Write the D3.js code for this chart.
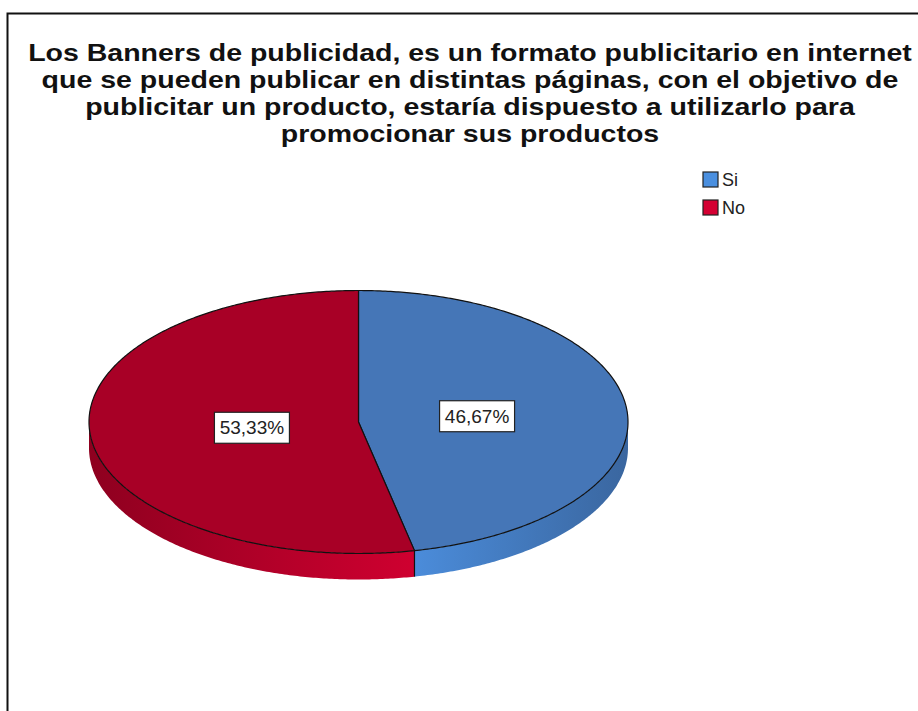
<!DOCTYPE html>
<html lang="es">
<head>
<meta charset="UTF-8"/>
<title>Banners de publicidad</title>
<script src="https://cdn.jsdelivr.net/npm/d3@7"></script>
<style>
    body { margin: 0; background: #fff; }
    text { font-family: "Liberation Sans", Arial, sans-serif; }
</style>
</head>
<body>
<svg width="918" height="711"></svg>
<script>
    // data
    const categories = ["Si", "No"];
    const percents = [46.67, 53.33];
    const labels = ["46,67%", "53,33%"];
    const titleLines = [
        "Los Banners de publicidad, es un formato publicitario en internet",
        "que se pueden publicar en distintas páginas, con el objetivo de",
        "publicitar un producto, estaría dispuesto a utilizarlo para",
        "promocionar sus productos"
    ];

    const topColor = d3.scaleOrdinal(categories, ["#4576b7", "#a80026"]);
    const sideLight = d3.scaleOrdinal(categories, ["#4b8cda", "#cf0030"]);
    const sideDark = d3.scaleOrdinal(categories, ["#3a669f", "#8e001f"]);
    const legendColor = d3.scaleOrdinal(categories, ["#4a8fdf", "#d40032"]);

    const svg = d3.select("svg");

    // frame (runs past the right and bottom edge like the source image)
    svg.append("rect")
        .attr("x", 7.5).attr("y", 13.5)
        .attr("width", 930).attr("height", 730)
        .attr("fill", "none").attr("stroke", "#111").attr("stroke-width", 2);

    // title: slightly smaller font, stretched to the width of the original lines
    const title = svg.append("g").selectAll("text")
        .data(titleLines)
        .enter().append("text")
        .attr("x", 470)
        .attr("y", (d, i) => 61 + i * 27)
        .attr("text-anchor", "middle")
        .attr("font-size", "24px")
        .attr("font-weight", "bold")
        .attr("fill", "#111")
        .text(d => d);
    title.each(function() {
        const w = this.getComputedTextLength();
        d3.select(this)
            .attr("textLength", w * 28.5 / 24)
            .attr("lengthAdjust", "spacingAndGlyphs");
    });

    // pie geometry
    const cx = 358.5, cy = 422, rx = 269.5, ry = 131.5, depth = 26;
    const px = (a, k = 1) => cx + rx * k * Math.sin(a);
    const py = (a, k = 1) => cy - ry * k * Math.cos(a);

    const pie = d3.pie().sort(null).value(d => d.value);
    const arcs = pie(categories.map((c, i) => ({ cat: c, value: percents[i], label: labels[i] })));

    const line = d3.line();
    function arcPoints(a0, a1, dy) {
        const n = Math.max(2, Math.ceil((a1 - a0) / 0.01));
        return d3.range(n + 1).map(i => {
            const a = a0 + (a1 - a0) * i / n;
            return [px(a), py(a) + dy];
        });
    }

    const defs = svg.append("defs");
    arcs.forEach((d, i) => {
        const gr = defs.append("linearGradient")
            .attr("id", "side" + i)
            .attr("gradientUnits", "userSpaceOnUse")
            .attr("x1", cx - rx).attr("x2", cx + rx).attr("y1", 0).attr("y2", 0);
        const mid = (px(arcs[0].endAngle) - (cx - rx)) / (2 * rx);
        gr.append("stop").attr("offset", 0).attr("stop-color", sideDark(d.data.cat));
        gr.append("stop").attr("offset", mid).attr("stop-color", sideLight(d.data.cat));
        gr.append("stop").attr("offset", 1).attr("stop-color", sideDark(d.data.cat));
    });

    // side walls, front half only
    const sides = svg.append("g");
    arcs.forEach((d, i) => {
        const s0 = Math.max(d.startAngle, Math.PI / 2);
        const s1 = Math.min(d.endAngle, 3 * Math.PI / 2);
        if (s1 <= s0) return;
        const pts = arcPoints(s0, s1, 0).concat(arcPoints(s0, s1, depth).reverse());
        sides.append("path")
            .attr("d", line(pts) + "Z")
            .attr("fill", "url(#side" + i + ")");
    });
    // split edge on the side wall
    arcs.forEach(d => {
        const a = d.endAngle;
        if (a > Math.PI / 2 && a < 3 * Math.PI / 2) {
            sides.append("line")
                .attr("x1", px(a)).attr("y1", py(a))
                .attr("x2", px(a)).attr("y2", py(a) + depth)
                .attr("stroke", "#111").attr("stroke-width", 1.2);
        }
    });

    // top faces
    svg.append("g").selectAll("path")
        .data(arcs)
        .enter().append("path")
        .attr("d", d => line([[cx, cy]].concat(arcPoints(d.startAngle, d.endAngle, 0))) + "Z")
        .attr("fill", d => topColor(d.data.cat))
        .attr("stroke", "#111")
        .attr("stroke-width", 1.2)
        .attr("stroke-linejoin", "round");

    // value labels
    const lab = svg.append("g").selectAll("g")
        .data(arcs)
        .enter().append("g")
        .attr("transform", d => {
            const m = (d.startAngle + d.endAngle) / 2;
            return "translate(" + (px(m, 0.42) + 6) + "," + py(m, 0.42) + ")";
        });
    lab.append("rect")
        .attr("x", -37.5).attr("y", -15.5)
        .attr("width", 75).attr("height", 31)
        .attr("fill", "#fff").attr("stroke", "#222").attr("stroke-width", 1.2);
    lab.append("text")
        .attr("text-anchor", "middle")
        .attr("dy", "0.35em")
        .attr("font-size", "19px")
        .attr("fill", "#222")
        .text(d => d.data.label);

    // legend
    const leg = svg.append("g").selectAll("g")
        .data(categories)
        .enter().append("g")
        .attr("transform", (d, i) => "translate(703," + (172 + i * 28) + ")");
    leg.append("rect")
        .attr("width", 15).attr("height", 15)
        .attr("fill", d => legendColor(d))
        .attr("stroke", "#222").attr("stroke-width", 1.2);
    leg.append("text")
        .attr("x", 19).attr("y", 8)
        .attr("dy", "0.35em")
        .attr("font-size", "18px")
        .attr("fill", "#222")
        .text(d => d);
</script>
</body>
</html>
